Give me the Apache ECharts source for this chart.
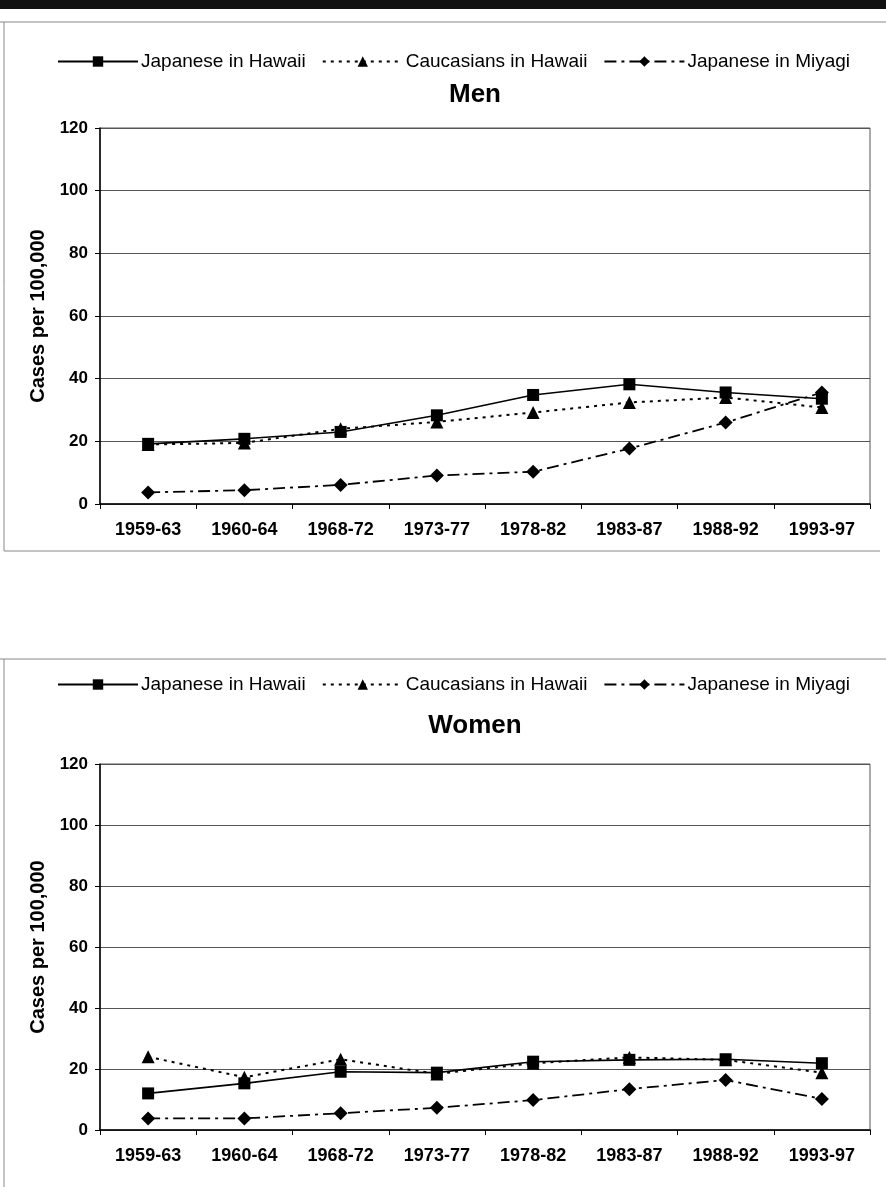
<!DOCTYPE html>
<html>
<head>
<meta charset="utf-8">
<script src="https://cdn.jsdelivr.net/npm/echarts@6/dist/echarts.min.js"></script>
<style>
html,body{margin:0;padding:0;background:#fff;}
#chart{width:886px;height:1187px;}
</style>
</head>
<body>
<div id="chart"></div>
<script>
const categories = ['1959-63','1960-64','1968-72','1973-77','1978-82','1983-87','1988-92','1993-97'];
const seriesNames = ['Japanese in Hawaii','Caucasians in Hawaii','Japanese in Miyagi'];
const yTicks = [0,20,40,60,80,100,120];

const menJapaneseHawaii   = [19.2, 20.8, 23.0, 28.3, 34.8, 38.2, 35.6, 33.6];
const menCaucasiansHawaii = [19.0, 19.5, 24.0, 26.2, 29.2, 32.4, 34.0, 30.8];
const menJapaneseMiyagi   = [3.7, 4.4, 6.1, 9.1, 10.3, 17.7, 26.0, 35.6];

const womenJapaneseHawaii   = [12.0, 15.3, 19.1, 18.8, 22.4, 23.0, 23.2, 21.9];
const womenCaucasiansHawaii = [24.0, 17.3, 23.2, 18.4, 21.9, 23.8, 23.0, 18.8];
const womenJapaneseMiyagi   = [3.8, 3.8, 5.5, 7.3, 9.8, 13.4, 16.4, 10.2];

const FONT = '"Liberation Sans", Arial, sans-serif';
const styles = [
  {symbol:'rect', symbolSize:12, line:{type:'solid', width:1.6}},
  {symbol:'triangle', symbolSize:13, line:{type:[3,5], width:2}},
  {symbol:'diamond', symbolSize:14, line:{type:[12,5,3,5], width:1.8}}
];

function mkSeries(idx, data, gi){
  const s = styles[idx];
  return {
    name: seriesNames[idx], type:'line', xAxisIndex:gi, yAxisIndex:gi,
    data:data, symbol:s.symbol, symbolSize:s.symbolSize,
    itemStyle:{color:'#000'},
    lineStyle:{color:'#000', type:s.line.type, width:s.line.width},
    z: 3 - idx, animation:false
  };
}

function mkLegend(top){
  return {
    top: top, left: 52, itemWidth: 80, itemHeight: 13, itemGap: 16,
    textStyle:{fontFamily:FONT, fontSize:19, color:'#000', padding:[0,0,0,-2]},
    data: seriesNames
  };
}

function mkX(gi){
  return {
    type:'category', gridIndex:gi, data:categories, boundaryGap:true,
    axisLine:{lineStyle:{color:'#000', width:1.5}},
    axisTick:{show:true, length:5, lineStyle:{color:'#000'}},
    axisLabel:{color:'#000', fontFamily:FONT, fontWeight:'bold', fontSize:18, margin:17, interval:0}
  };
}
function mkY(gi){
  return {
    type:'value', gridIndex:gi, min:yTicks[0], max:yTicks[yTicks.length-1], interval:20,
    name:'Cases per 100,000', nameLocation:'middle', nameGap:52, nameRotate:90,
    nameTextStyle:{color:'#000', fontFamily:FONT, fontWeight:'bold', fontSize:20},
    axisLine:{show:true, lineStyle:{color:'#000', width:1.5}},
    axisTick:{show:true, length:5, lineStyle:{color:'#000'}},
    splitLine:{show:true, lineStyle:{color:'#555', width:1}},
    axisLabel:{color:'#000', fontFamily:FONT, fontWeight:'bold', fontSize:17, margin:12}
  };
}

const chart = echarts.init(document.getElementById('chart'), null, {renderer:'canvas'});
chart.setOption({
  backgroundColor:'#fff',
  animation:false,
  title:[
    {text:'Men', left:470, top:77, textAlign:'center', textStyle:{fontFamily:FONT, fontWeight:'bold', fontSize:26, color:'#000'}},
    {text:'Women', left:470, top:708, textAlign:'center', textStyle:{fontFamily:FONT, fontWeight:'bold', fontSize:26, color:'#000'}}
  ],
  legend:[mkLegend(47), mkLegend(670)],
  grid:[
    {left:100, right:16, top:128, height:376, show:true, borderColor:'#555', borderWidth:1},
    {left:100, right:16, top:764, height:366, show:true, borderColor:'#555', borderWidth:1}
  ],
  xAxis:[mkX(0), mkX(1)],
  yAxis:[mkY(0), mkY(1)],
  series:[
    mkSeries(0, menJapaneseHawaii, 0),
    mkSeries(1, menCaucasiansHawaii, 0),
    mkSeries(2, menJapaneseMiyagi, 0),
    mkSeries(0, womenJapaneseHawaii, 1),
    mkSeries(1, womenCaucasiansHawaii, 1),
    mkSeries(2, womenJapaneseMiyagi, 1)
  ],
  graphic:[
    {type:'rect', shape:{x:0,y:0,width:886,height:9}, style:{fill:'#111'}},
    {type:'line', shape:{x1:0,y1:22,x2:886,y2:22}, style:{stroke:'#888', lineWidth:1}},
    {type:'line', shape:{x1:4,y1:22,x2:4,y2:551}, style:{stroke:'#888', lineWidth:1}},
    {type:'line', shape:{x1:4,y1:551,x2:880,y2:551}, style:{stroke:'#888', lineWidth:1}},
    {type:'line', shape:{x1:0,y1:659,x2:886,y2:659}, style:{stroke:'#888', lineWidth:1}},
    {type:'line', shape:{x1:4,y1:659,x2:4,y2:1187}, style:{stroke:'#888', lineWidth:1}}
  ]
});
</script>
</body>
</html>
